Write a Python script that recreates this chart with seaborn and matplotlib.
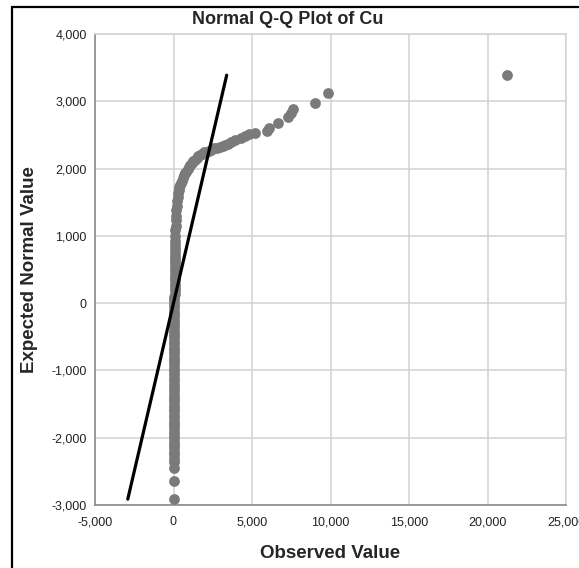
import matplotlib
matplotlib.use("Agg")
import matplotlib.pyplot as plt
import matplotlib.patches as patches
from matplotlib.ticker import FuncFormatter
import seaborn as sns
import pandas as pd

# bottom tail (tied minimums)
tail_x = [0, 0, 0]
tail_y = [-2913, -2645, -2456]

# dense column of near-zero observations
column_x = [0, 0, 0, 0, 5, 5, 5, 5, 10, 10, 10, 10, 15, 15, 15, 15, 20, 20,
            20, 20, 25, 25, 25, 25, 30, 30, 30, 30, 35, 35, 35, 35, 40, 40,
            40, 40, 45, 45, 45, 45, 50, 50, 50, 50, 55, 55, 55, 60, 60, 60,
            65, 65, 70, 70, 75, 75, 80, 80, 85, 85, 90, 90, 95, 95, 100]
column_y = [-2360, -2310, -2260, -2210, -2160, -2110, -2060, -2010, -1960,
            -1910, -1860, -1810, -1760, -1710, -1660, -1610, -1560, -1510,
            -1460, -1410, -1360, -1310, -1260, -1210, -1160, -1110, -1060,
            -1010, -960, -910, -860, -810, -760, -710, -660, -610, -560, -510,
            -460, -410, -360, -310, -260, -210, -160, -110, -60, -10, 40, 90,
            140, 190, 240, 290, 340, 390, 440, 490, 540, 590, 640, 690, 740,
            800, 860]

# upper bend and right tail
curve_x = [105, 115, 125, 135, 150, 170, 190, 210, 230, 265, 300, 340, 380,
           420, 460, 520, 580, 650, 730, 810, 900, 980, 1050, 1150, 1250, 1360,
           1480, 1590, 1700, 1820, 1950, 2100, 2250, 2420, 2600, 2780, 2960,
           3130, 3300, 3480, 3650, 3900, 4300, 4550, 4800, 5200, 5940, 6100,
           6680, 7310, 7460, 7620, 9010, 9860, 21230]
curve_y = [930, 1000, 1080, 1150, 1230, 1300, 1380, 1450, 1520, 1580, 1630,
           1680, 1720, 1760, 1790, 1820, 1860, 1900, 1930, 1950, 1990, 2020,
           2050, 2080, 2110, 2130, 2160, 2180, 2200, 2220, 2240, 2250, 2260,
           2280, 2300, 2310, 2320, 2335, 2350, 2370, 2390, 2420, 2460, 2490,
           2510, 2530, 2560, 2610, 2680, 2760, 2820, 2880, 2977, 3125, 3388]

# reference line (expected == observed)
line_x = [-2913, 3388]
line_y = [-2913, 3388]

x_ticks = [-5000, 0, 5000, 10000, 15000, 20000, 25000]
y_ticks = [-3000, -2000, -1000, 0, 1000, 2000, 3000, 4000]

df = pd.DataFrame({
    "observed": tail_x + column_x + curve_x,
    "expected": tail_y + column_y + curve_y,
})

sns.set_style("white")
plt.rcParams["font.family"] = ["Liberation Sans", "DejaVu Sans"]

fig = plt.figure(figsize=(5.79, 5.68), dpi=100)
ax = fig.add_axes([95 / 579, 63 / 568, 471 / 579, 471 / 568])

sns.scatterplot(data=df, x="observed", y="expected", ax=ax, color="#7a7a7a",
                s=60, linewidth=0, zorder=3, clip_on=False)
sns.lineplot(x=line_x, y=line_y, ax=ax, color="black", linewidth=2.3,
             zorder=4, sort=False)

ax.set_xlim(-5000, 25000)
ax.set_ylim(-3000, 4000)
ax.set_xticks(x_ticks)
ax.set_yticks(y_ticks)
fmt = FuncFormatter(lambda v, p: f"{v:,.0f}")
ax.xaxis.set_major_formatter(fmt)
ax.yaxis.set_major_formatter(fmt)
ax.tick_params(axis="both", length=0, labelsize=9, colors="#222222")
ax.tick_params(axis="y", pad=6)
ax.tick_params(axis="x", pad=8)

ax.grid(True, color="#d2d2d2", linewidth=1.1)
ax.set_axisbelow(True)
for side in ["top", "right"]:
    ax.spines[side].set_color("#d2d2d2")
    ax.spines[side].set_linewidth(1.1)
for side in ["bottom", "left"]:
    ax.spines[side].set_color("#8c8c8c")
    ax.spines[side].set_linewidth(1.2)

ax.set_xlabel("Observed Value", fontsize=13.5, fontweight="bold")
ax.set_ylabel("Expected Normal Value", fontsize=13.5, fontweight="bold")
ax.xaxis.set_label_coords(0.5, -0.085)
ax.yaxis.set_label_coords(-0.122, 0.5)

fig.text(0.497, 1 - 19 / 568, "Normal Q-Q Plot of Cu", ha="center", va="center",
         fontsize=13, fontweight="bold")

# outer frame (only top and left edges fall inside the image)
frame = patches.Rectangle((12 / 579, -0.1), 1.2, 1.1 - 7 / 568,
                          transform=fig.transFigure, fill=False,
                          edgecolor="black", linewidth=1.6)
fig.patches.append(frame)

fig.savefig("out.png", dpi=100)
